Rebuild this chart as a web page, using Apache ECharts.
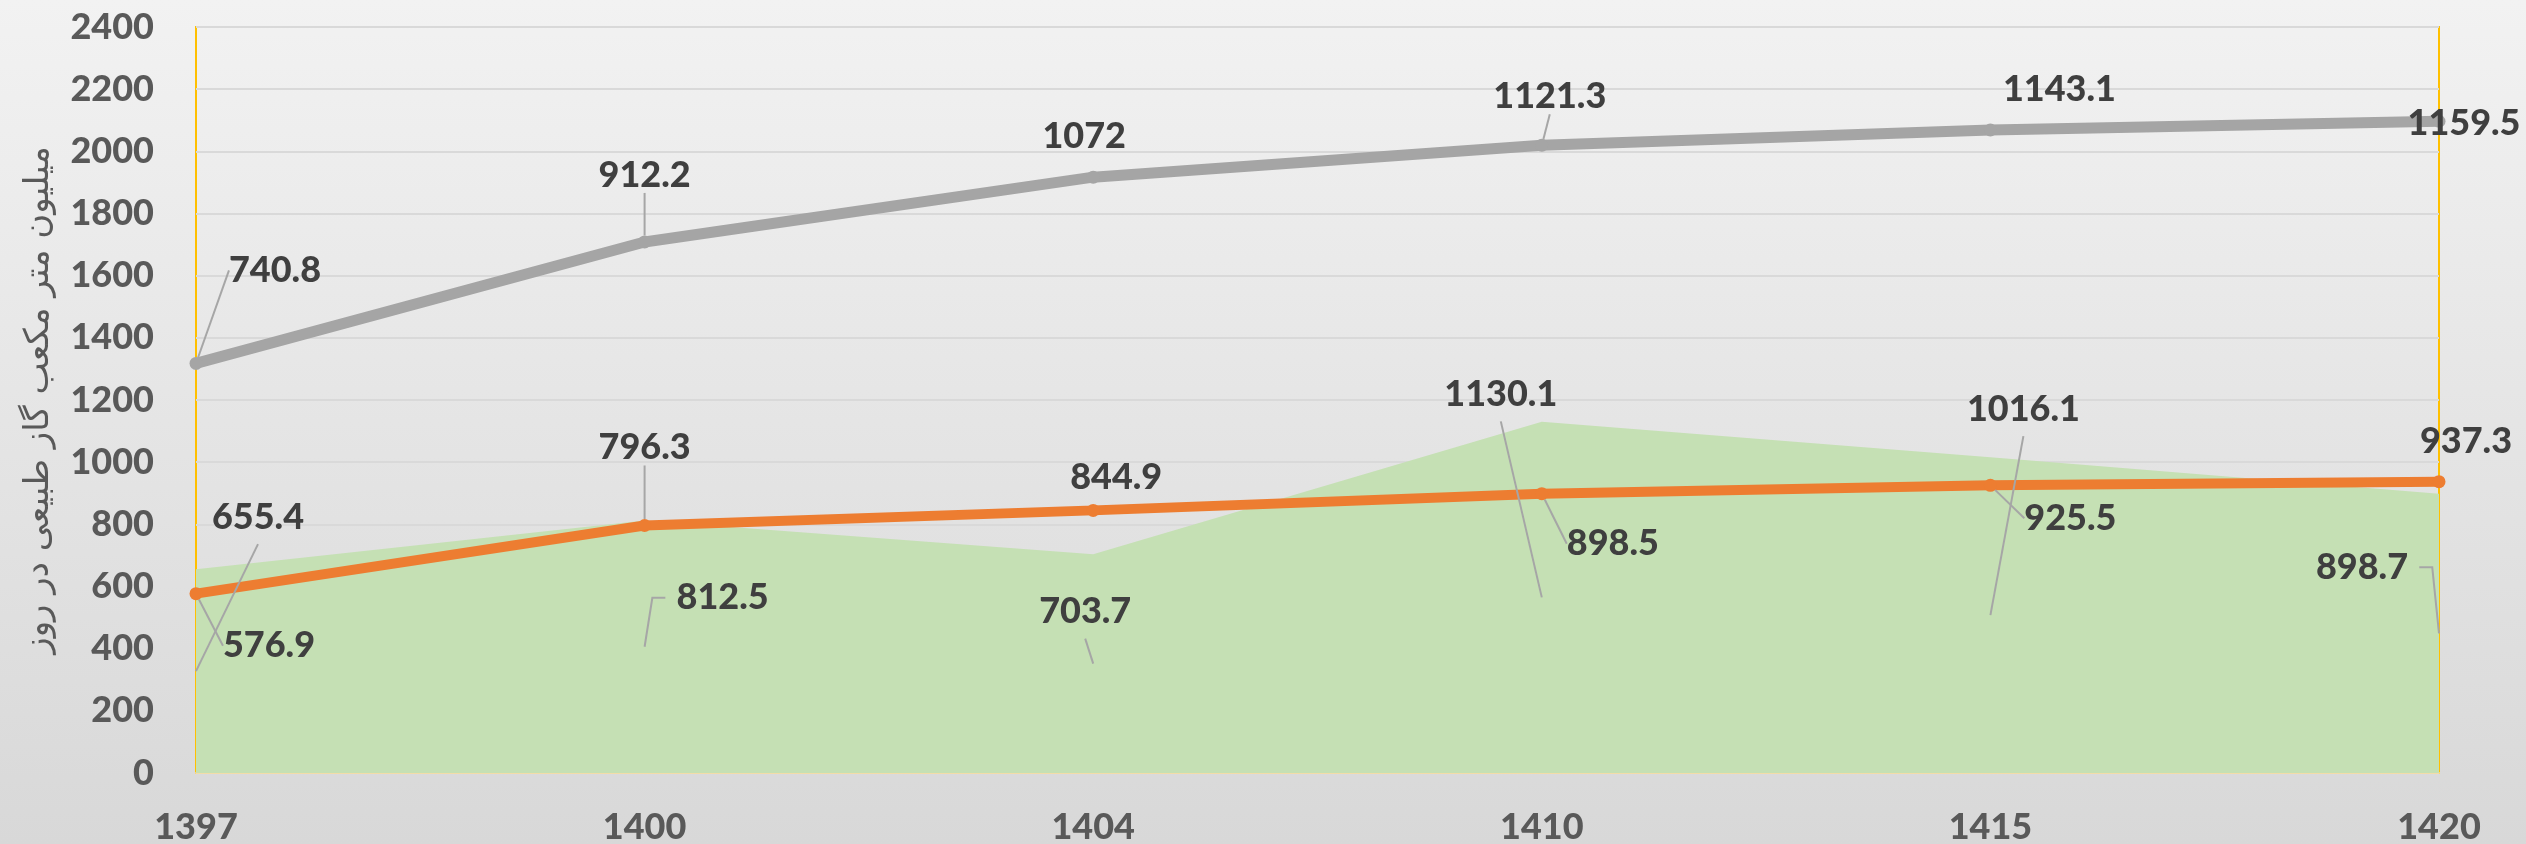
<!DOCTYPE html>
<html>
<head>
<meta charset="utf-8">
<script src="https://cdn.jsdelivr.net/npm/echarts@6/dist/echarts.min.js"></script>
<style>
  html, body { margin: 0; padding: 0; }
  #chart { width: 2526px; height: 844px; background: linear-gradient(#f2f2f2, #d8d8d8); }
</style>
</head>
<body>
<div id="chart"></div>
<script>
// data
const years = ['1397', '1400', '1404', '1410', '1415', '1420'];
const orangeVals = [576.9, 796.3, 844.9, 898.5, 925.5, 937.3];   // bottom of the stack
const grayVals = [740.8, 912.2, 1072, 1121.3, 1143.1, 1159.5];   // stacked on orange
const greenVals = [655.4, 812.5, 703.7, 1130.1, 1016.1, 898.7];  // area, not stacked
const yMin = 0, yMax = 2400, yStep = 200;
const yTitle = 'میلیون متر مکعب گاز طبیعی در روز';

// label placement (pixels, moved by hand like the excel labels)
const grayOff = [[79, -93], [0, -67], [-9, -41], [8, -49], [69, -41], [25, 2]];
const grayLead = [true, true, false, true, false, false];
const orangeOff = [[73, 52], [0, -78], [23, -33], [71, 50], [80, 33], [27, -40]];
const orangeLead = [true, true, false, true, true, false];
// green labels hang off the middle of the area (excel style)
const greenOff = [[62, -154], [78, -49], [-8, -52], [-41, -203], [33, -206], [-77, -66]];
const greenLead = ['bottom', 'left', 'bottom', 'bottom', 'bottom', 'right'];

const FONT = 'Lato';
const labelStyle = { color: '#3f3f3f', fontFamily: FONT, fontWeight: 900, fontSize: 36 };
const leadLine = { color: '#a6a6a6', width: 2 };

const chart = echarts.init(document.getElementById('chart'));

function lineSeries(name, vals, color, width, off, lead) {
  return {
    name: name,
    type: 'line',
    stack: 'total',
    z: 3,
    data: vals.map((v, i) => ({ value: v, labelLine: { show: lead[i] } })),
    symbol: 'circle',
    symbolSize: 13,
    lineStyle: { color: color, width: width },
    itemStyle: { color: color },
    label: Object.assign({ show: true, position: 'inside' }, labelStyle),
    labelLine: { show: true, lineStyle: leadLine },
    labelLayout: function (p) {
      const o = off[p.dataIndex];
      return { dx: o[0], dy: o[1] };
    },
    emphasis: { disabled: true }
  };
}

const option = {
  backgroundColor: 'transparent',
  animation: false,
  grid: {
    left: 196, right: 87, top: 27, bottom: 71,
    containLabel: false, outerBoundsMode: 'none',
    show: true, borderColor: '#FFC000', borderWidth: 2, backgroundColor: 'transparent'
  },
  xAxis: {
    type: 'category',
    data: years,
    boundaryGap: false,
    axisLine: { show: true, lineStyle: { color: '#f3dca8', width: 2 } },
    axisTick: { show: false },
    axisLabel: { color: '#595959', fontFamily: FONT, fontWeight: 900, fontSize: 36, margin: 36 },
    splitLine: { show: false }
  },
  yAxis: {
    type: 'value',
    min: yMin, max: yMax, interval: yStep,
    name: yTitle,
    nameLocation: 'middle',
    nameRotate: 90,
    nameGap: 140,
    nameTextStyle: { color: '#595959', fontFamily: 'DejaVu Sans', fontSize: 34 },
    axisLine: { show: false },
    axisTick: { show: false },
    axisLabel: {
      color: '#595959', fontFamily: FONT, fontWeight: 900, fontSize: 36, margin: 42,
      formatter: v => String(v)
    },
    splitLine: { show: true, lineStyle: { color: '#d9d9d9', width: 2 } }
  },
  series: [
    {
      name: 'green',
      type: 'line',
      z: 1,
      data: greenVals,
      symbol: 'none',
      lineStyle: { width: 0 },
      areaStyle: { color: '#C5E0B4', opacity: 1 },
      label: { show: false },
      emphasis: { disabled: true }
    },
    lineSeries('orange', orangeVals, '#ED7D31', 10, orangeOff, orangeLead),
    lineSeries('gray', grayVals, '#A5A5A5', 11, grayOff, grayLead),
    {
      name: 'green labels',
      type: 'custom',
      z: 4,
      silent: true,
      data: greenVals.map((v, i) => [i, v]),
      renderItem: function (params, api) {
        const i = params.dataIndex;
        const v = api.value(1);
        const a = api.coord([i, v / 2]);
        const o = greenOff[i];
        const cx = a[0] + o[0], cy = a[1] + o[1];
        const txt = String(greenVals[i]);
        const w = txt.length * 19.3;
        let pts;
        if (greenLead[i] === 'left') {
          const ex = cx - w / 2 - 9;
          pts = [a, [ex - 13, cy], [ex, cy]];
        } else if (greenLead[i] === 'right') {
          const ex = cx + w / 2 + 9;
          pts = [a, [ex + 13, cy], [ex, cy]];
        } else {
          pts = [a, [cx, cy + 27]];
        }
        return {
          type: 'group',
          children: [
            { type: 'polyline', shape: { points: pts }, style: { stroke: leadLine.color, lineWidth: leadLine.width, fill: null } },
            {
              type: 'text', x: cx, y: cy,
              style: {
                text: txt, fill: labelStyle.color, font: '900 36px ' + FONT,
                align: 'center', verticalAlign: 'middle'
              }
            }
          ]
        };
      }
    }
  ]
};

chart.setOption(option);
</script>
</body>
</html>
